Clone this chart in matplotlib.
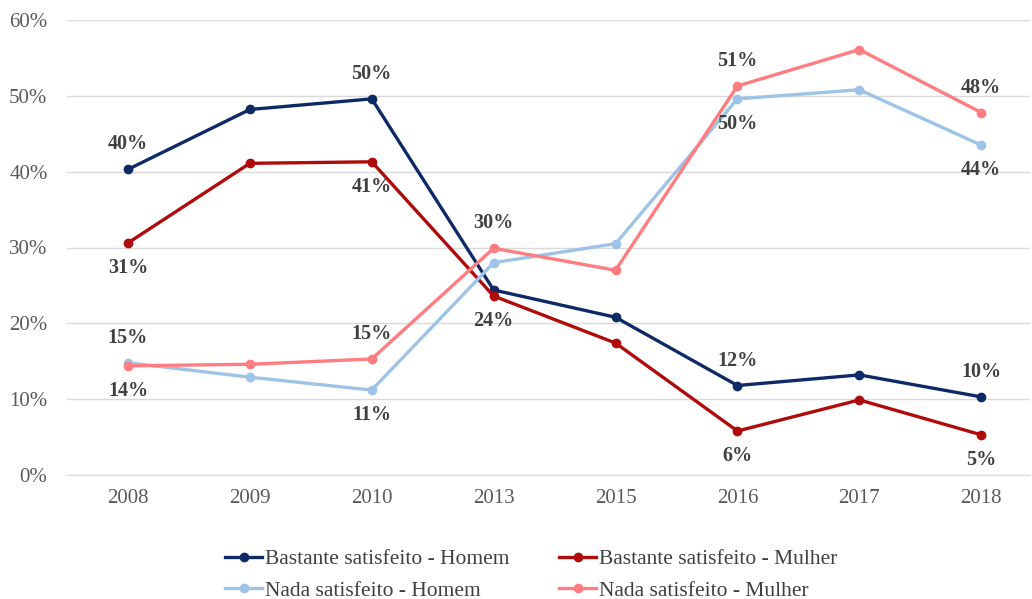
import numpy as np
import matplotlib.pyplot as plt
from matplotlib.ticker import PercentFormatter

## DATOS
anos = ["2008", "2009", "2010", "2013", "2015", "2016", "2017", "2018"]

bastante_homem = [40.3, 48.2, 49.6, 24.4, 20.8, 11.8, 13.2, 10.3]
bastante_mulher = [30.6, 41.1, 41.3, 23.6, 17.4, 5.8, 9.9, 5.3]
nada_homem = [14.8, 12.9, 11.2, 28.0, 30.5, 49.6, 50.8, 43.5]
nada_mulher = [14.4, 14.6, 15.3, 29.9, 27.0, 51.3, 56.1, 47.8]

## etiquetas: indice del punto, texto, arriba(+1)/abajo(-1)
et_bastante_homem = [(0, "40%", 1), (2, "50%", 1), (5, "12%", 1), (7, "10%", 1)]
et_bastante_mulher = [(0, "31%", -1), (2, "41%", -1), (3, "24%", -1), (5, "6%", -1), (7, "5%", -1)]
et_nada_homem = [(0, "15%", 1), (2, "11%", -1), (5, "50%", -1), (7, "44%", -1)]
et_nada_mulher = [(0, "14%", -1), (2, "15%", 1), (3, "30%", 1), (5, "51%", 1), (7, "48%", 1)]

plt.rcParams['font.family'] = ['Liberation Serif', 'DejaVu Serif']

fig = plt.figure(figsize=(10.32, 5.99), dpi=100)
ax = fig.add_axes([67/1032, 1 - 475/599, (1030-67)/1032, (475-20)/599])

x = np.arange(len(anos))
series = [
    ("Bastante satisfeito - Homem", bastante_homem, "#0E2A66", et_bastante_homem),
    ("Bastante satisfeito - Mulher", bastante_mulher, "#B00B0B", et_bastante_mulher),
    ("Nada satisfeito - Homem", nada_homem, "#9DC3E6", et_nada_homem),
    ("Nada satisfeito - Mulher", nada_mulher, "#FF7C80", et_nada_mulher),
]

lineas = []
for nombre, vals, color, etiquetas in series:
    l, = ax.plot(x, vals, color=color, lw=2.4, marker="o", ms=6, label=nombre, zorder=3)
    lineas.append(l)
    for i, txt, pos in etiquetas:
        ax.annotate(txt, (x[i], vals[i]), xytext=(0, 18 * pos), textcoords="offset points",
                    ha="center", va="center", fontsize=14.5, fontweight="bold", color="#404040")

ax.set_ylim(0, 60)
ax.set_xlim(-0.5, 7.4)
ax.set_yticks(range(0, 61, 10))
ax.yaxis.set_major_formatter(PercentFormatter(decimals=0))
ax.set_xticks(x)
ax.set_xticklabels(anos)
ax.grid(axis="y", color="#D9D9D9", lw=1)
ax.set_axisbelow(True)
for s in ["top", "right", "left"]:
    ax.spines[s].set_visible(False)
ax.spines["bottom"].set_color("#D9D9D9")
ax.tick_params(length=0, labelsize=15, colors="#595959")
ax.tick_params(axis="x", pad=10)
ax.tick_params(axis="y", pad=14)

## orden de leyenda: filas (Bastante H, Bastante M) / (Nada H, Nada M)
orden = [lineas[0], lineas[2], lineas[1], lineas[3]]
fig.legend(handles=orden, loc="center", bbox_to_anchor=(0.515, 1 - 575/599), ncol=2, frameon=False,
           fontsize=15.5, handlelength=1.7, handletextpad=0.15, columnspacing=2.3,
           labelspacing=0.55, labelcolor="#404040")

plt.savefig("out.png")
